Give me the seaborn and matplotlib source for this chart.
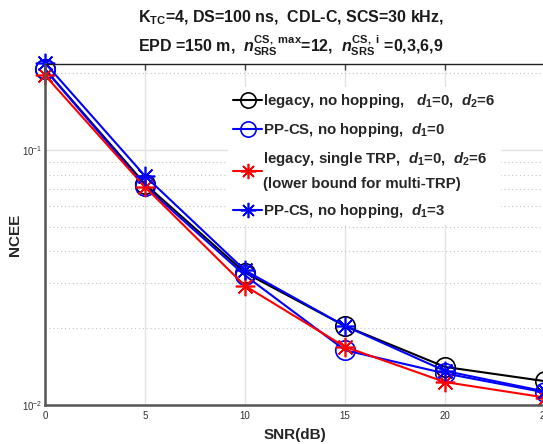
import numpy as np
import pandas as pd
import matplotlib
matplotlib.use("Agg")
import matplotlib.pyplot as plt
import seaborn as sns
from matplotlib.lines import Line2D
from matplotlib.ticker import LogLocator, NullFormatter

snr = [0, 5, 10, 15, 20, 25]
legacy_nohop = [0.207, 0.0735, 0.0330, 0.0204, 0.0141, 0.0124]
ppcs_d0 = [0.207, 0.0720, 0.0322, 0.0164, 0.0133, 0.0112]
legacy_single = [0.196, 0.0715, 0.0293, 0.0169, 0.0123, 0.0107]
ppcs_d3 = [0.219, 0.0790, 0.0337, 0.0204, 0.0136, 0.0113]

labels = [
    r"legacy, no hopping,   $\mathit{d}_\mathrm{1}$=0,  $\mathit{d}_\mathrm{2}$=6",
    r"PP-CS, no hopping,  $\mathit{d}_\mathrm{1}$=0",
    "legacy, single TRP,  $\\mathit{d}_\\mathrm{1}$=0,  $\\mathit{d}_\\mathrm{2}$=6\n(lower bound for multi-TRP)",
    r"PP-CS, no hopping,  $\mathit{d}_\mathrm{1}$=3",
]
title1 = r"K$_\mathrm{TC}$=4, DS=100 ns,  CDL-C, SCS=30 kHz,"
title2 = r"EPD =150 m,  $\mathit{n}_\mathrm{SRS}^\mathrm{CS,\ max}$=12,  $\mathit{n}_\mathrm{SRS}^\mathrm{CS,\ i}$ =0,3,6,9"

sns.set_style("white")
plt.rcParams["font.family"] = ["Liberation Sans", "DejaVu Sans"]
plt.rcParams["mathtext.fontset"] = "custom"
plt.rcParams["mathtext.rm"] = "Liberation Sans:bold"
plt.rcParams["mathtext.it"] = "Liberation Sans:italic:bold"
plt.rcParams["mathtext.bf"] = "Liberation Sans:bold"

fig = plt.figure(figsize=(5.43, 4.44), dpi=100)
W, H = 543, 444
left, right, top, bottom = 45, 545, 64, 405
ax = fig.add_axes([left / W, 1 - bottom / H, (right - left) / W, (bottom - top) / H])

ast = (8, 2, 0)
series = [
    (legacy_nohop, "black", "o", 14),
    (ppcs_d0, "blue", "o", 14),
    (legacy_single, "red", ast, 14),
    (ppcs_d3, "blue", ast, 14),
]
for vals, col, mk, ms in series:
    df = pd.DataFrame({"snr": snr, "v": vals})
    sns.lineplot(data=df, x="snr", y="v", ax=ax, color=col, lw=1.5,
                 marker=mk, markersize=ms, markerfacecolor="none",
                 markeredgecolor=col, markeredgewidth=1.2, clip_on=False,
                 legend=False)

ax.set_yscale("log")
ax.set_xlim(0, 25)
ax.set_ylim(0.01, 0.217)
ax.set_xticks([0, 5, 10, 15, 20, 25])
ax.yaxis.set_major_locator(LogLocator(base=10, numticks=5))
ax.yaxis.set_minor_locator(LogLocator(base=10, subs=np.arange(2, 10), numticks=20))
ax.yaxis.set_minor_formatter(NullFormatter())

ax.grid(True, which="major", axis="both", color="#e3e3e3", lw=1.0, ls="-")
ax.grid(True, which="minor", axis="y", color="#c4c4c4", lw=0.8, ls=(0, (1, 2.5)))
ax.set_axisbelow(True)

ax.tick_params(axis="both", which="both", direction="in", labelsize=7,
               labelcolor="#303030", color="#404040")
ax.tick_params(axis="x", which="major", top=True, length=4, width=1, pad=4)
ax.tick_params(axis="y", which="major", length=4, width=1, pad=2)
ax.tick_params(axis="y", which="minor", length=3, width=0.8)

for s in ["left", "bottom"]:
    ax.spines[s].set_color("#555555")
    ax.spines[s].set_linewidth(1.8)
ax.spines["top"].set_color("#202020")
ax.spines["top"].set_linewidth(1.0)
ax.spines["right"].set_visible(False)

ax.set_xlabel("SNR(dB)", fontsize=11, fontweight="bold", color="#262626", labelpad=5)
ax.set_ylabel("NCEE", fontsize=11, fontweight="bold", color="#262626")
ax.yaxis.set_label_coords((22 - left) / (right - left), 0.5)

fig.text(291 / W, 1 - 22.5 / H, title1, ha="center", va="baseline",
         fontsize=11.5, fontweight="bold", color="#1a1a1a")
fig.text(291 / W, 1 - 52 / H, title2, ha="center", va="baseline",
         fontsize=11.5, fontweight="bold", color="#1a1a1a")

handles = [Line2D([], [], color=c, lw=1.5, marker=m, markersize=11,
                  markerfacecolor="none", markeredgecolor=c, markeredgewidth=1.2)
           for _, c, m, _ in series]
leg = ax.legend(handles, labels, loc="upper left",
                bbox_to_anchor=(228 / W, 1 - 87 / H), bbox_transform=fig.transFigure,
                borderaxespad=0, borderpad=0.35, fontsize=10.8, frameon=True,
                facecolor="white", edgecolor="none", framealpha=1, fancybox=False,
                handlelength=1.9, handletextpad=0.1, labelspacing=0.72)
for t in leg.get_texts():
    t.set_fontweight("bold")
    t.set_linespacing(1.85)

fig.savefig("out.png", dpi=100)
